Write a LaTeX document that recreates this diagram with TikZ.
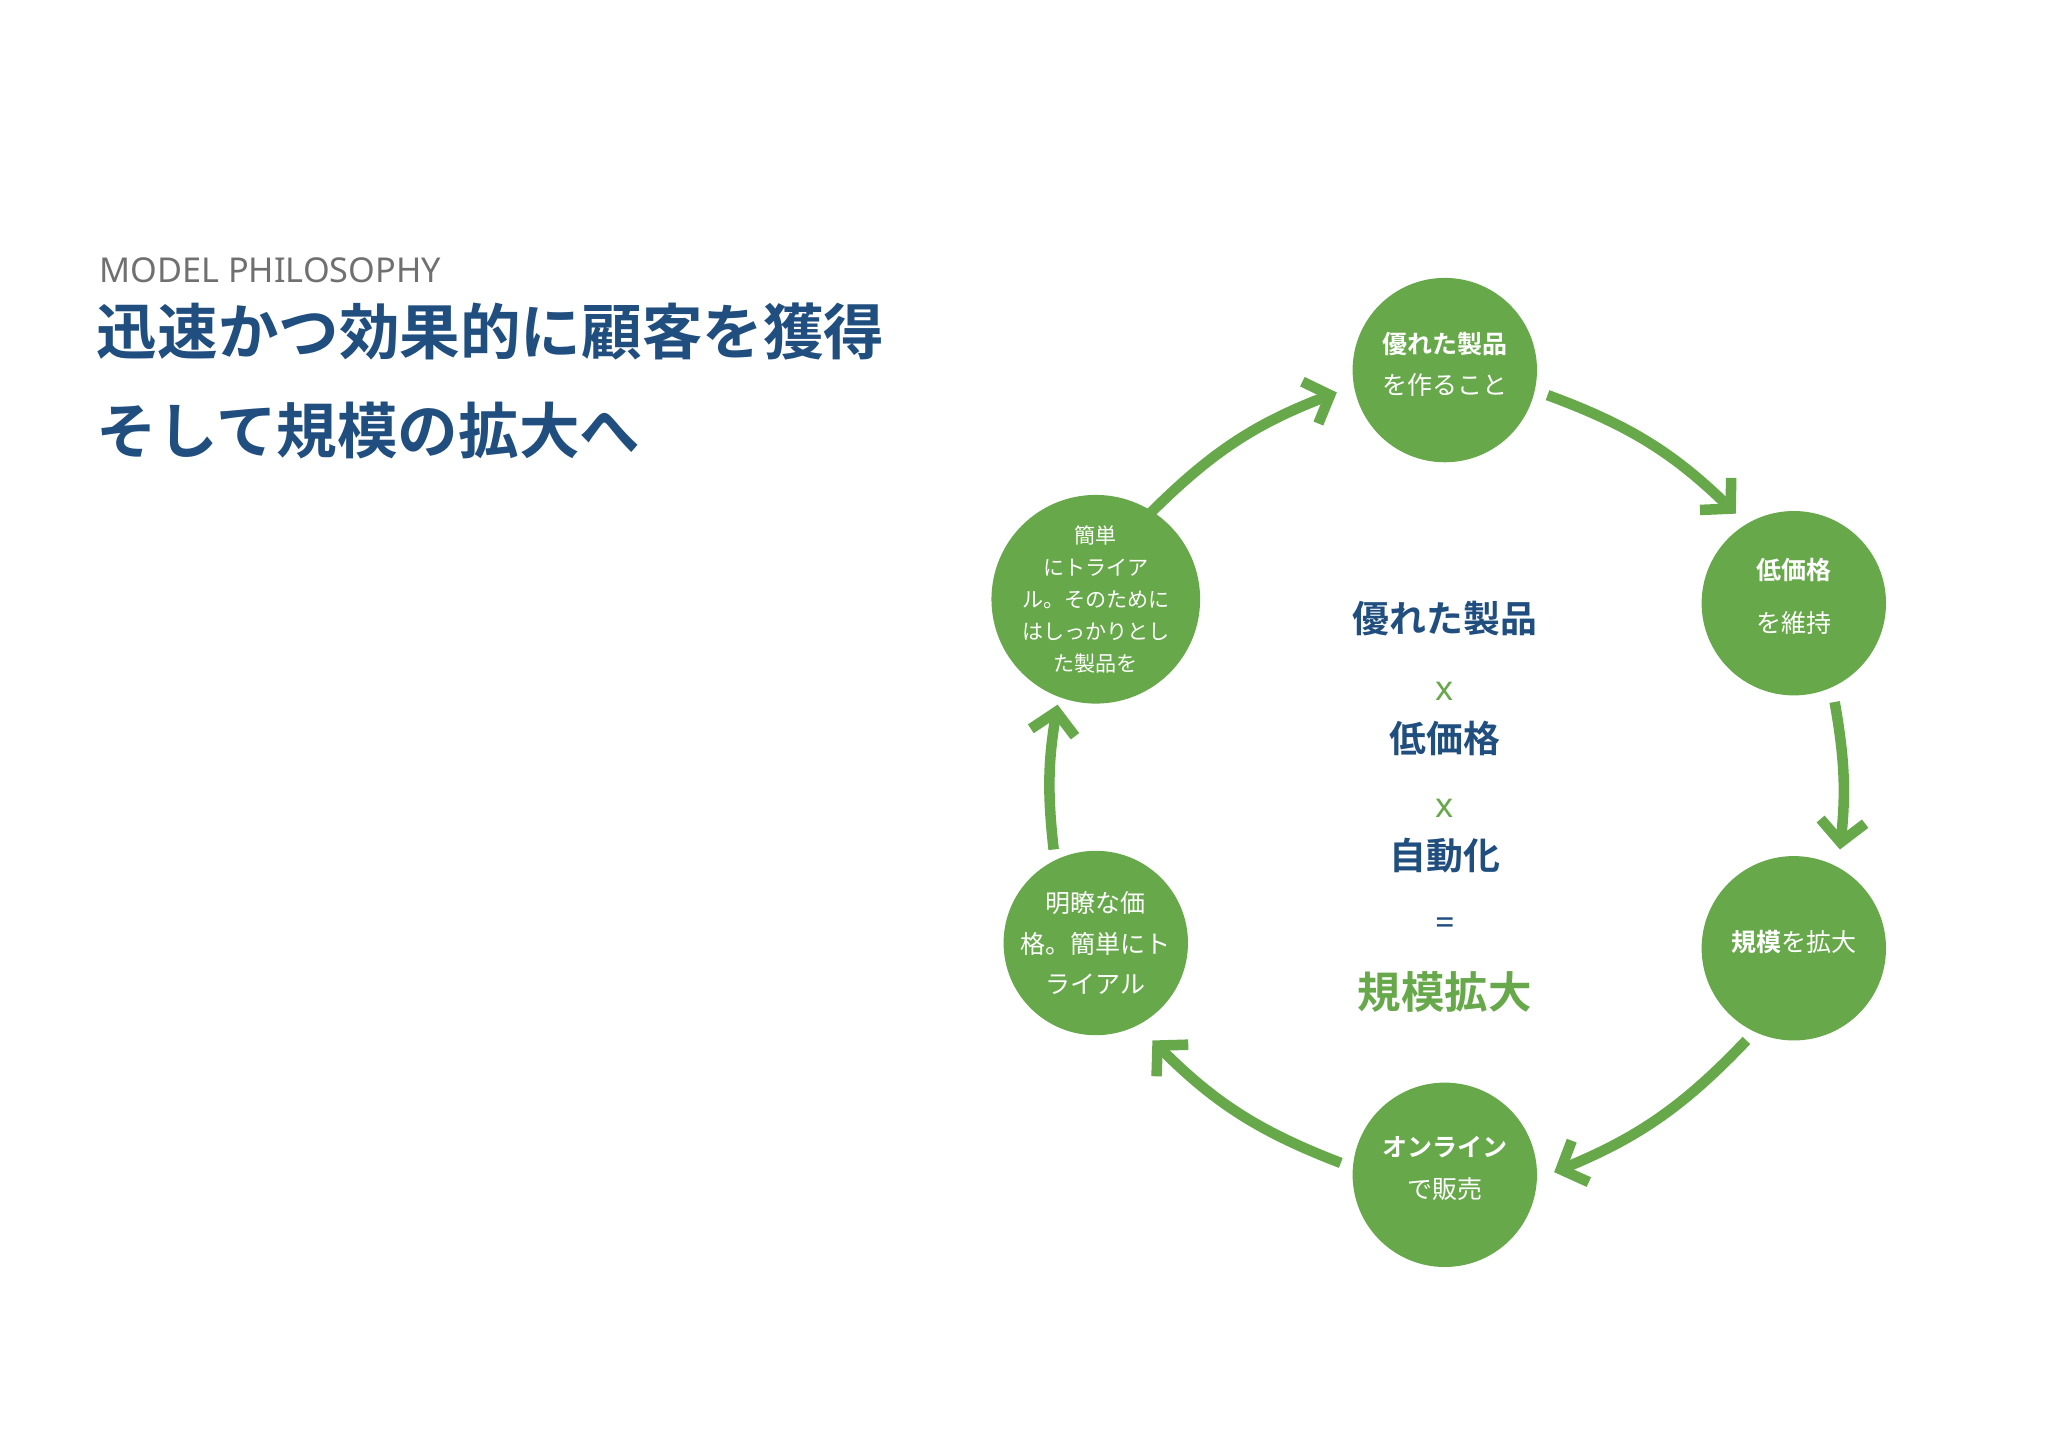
\documentclass[tikz,border=0pt]{standalone}
\usepackage{fontspec}
\setmainfont{Noto Sans CJK JP}
\newfontfamily\jpb{Noto Sans CJK JP Bold}
\newfontfamily\lat{Noto Sans}
\usetikzlibrary{arrows.meta}
\definecolor{gr}{HTML}{67A84A}
\definecolor{bl}{HTML}{1F4E7F}
\definecolor{gy}{HTML}{707070}
\tikzset{
 circ/.style={circle,fill=gr,minimum size=140pt,inner sep=0pt,text=white,align=center},
 cyc/.style={draw=gr,line width=8pt,-{Straight Barb[length=16pt,width=34pt,line width=8pt]}},
 ctr/.style={text=bl,font=\jpb\fontsize{28}{30}\selectfont},
 cx/.style={text=gr,font=\lat\bfseries\fontsize{26}{28}\selectfont}
}
\begin{document}
\begin{tikzpicture}[x=1pt,y=-1pt]
\useasboundingbox[fill=white] (0,0) rectangle (1555,1099);
\node[anchor=west,text=gy,font=\lat\bfseries\fontsize{26}{28}\selectfont] (mp) at (72,205) {MODEL PHILOSOPHY};
\node[anchor=west,text=bl,font=\jpb\fontsize{46}{50}\selectfont] (t1) at (70,252) {迅速かつ効果的に顧客を獲得};
\node[anchor=west,text=bl,font=\jpb\fontsize{46}{50}\selectfont] (t2) at (70,327) {そして規模の拡大へ};

\node[circ] (c1) at (1097,281) {};
\node[text=white,font=\jpb\fontsize{19}{20}\selectfont] (c1a) at (1097,261) {優れた製品};
\node[text=white,font=\fontsize{19}{20}\selectfont] (c1b) at (1097,292) {を作ること};
\node[circ] (c2) at (1362,458) {};
\node[text=white,font=\jpb\fontsize{19}{20}\selectfont] (c2a) at (1362,433) {低価格};
\node[text=white,font=\fontsize{19}{20}\selectfont] (c2b) at (1362,473) {を維持};
\node[circ] (c3) at (1362,720) {};
\node[text=white,font=\fontsize{19}{20}\selectfont] (c3a) at (1362,715) {{\jpb 規模}を拡大};
\node[circ] (c4) at (1097,892) {};
\node[text=white,font=\jpb\fontsize{19}{20}\selectfont] (c4a) at (1097,871) {オンライン};
\node[text=white,font=\fontsize{19}{20}\selectfont] (c4b) at (1097,903) {で販売};
\node[circ,font=\fontsize{19}{30.5}\selectfont] (c5) at (832,716) {明瞭な価\\格。簡単にト\\ライアル};
\node[circ,font=\fontsize{16}{24.3}\selectfont] (c6) at (832,455) {簡単\\にトライア\\ル。そのために\\はしっかりとし\\た製品を};

\coordinate (a1s) at (1175,300); \coordinate (a1e) at (1318,390);
\coordinate (a2s) at (1393,533); \coordinate (a2e) at (1397,645);
\coordinate (a3s) at (1326,790); \coordinate (a3e) at (1180,890);
\coordinate (a4s) at (1018,883); \coordinate (a4e) at (875,790);
\coordinate (a5s) at (800,645); \coordinate (a5e) at (803,535);
\coordinate (a6s) at (873,390); \coordinate (a6e) at (1015,298);
\draw[cyc] (a1s) to[bend left=12] (a1e);
\draw[cyc] (a2s) to[bend left=8] (a2e);
\draw[cyc] (a3s) to[bend left=12] (a3e);
\draw[cyc] (a4s) to[bend left=12] (a4e);
\draw[cyc] (a5s) to[bend left=8] (a5e);
\draw[cyc] (a6s) to[bend left=12] (a6e);

\node[ctr] (m1) at (1097,470) {優れた製品};
\node[cx] (x1) at (1097,525) {x};
\node[ctr] (m2) at (1097,561) {低価格};
\node[cx] (x2) at (1097,614) {x};
\node[ctr] (m3) at (1097,650) {自動化};
\node[text=bl,font=\lat\bfseries\fontsize{26}{28}\selectfont] (eq) at (1097,703) {=};
\node[text=gr,font=\jpb\fontsize{33}{36}\selectfont] (res) at (1097,753) {規模拡大};
\end{tikzpicture}
\end{document}
